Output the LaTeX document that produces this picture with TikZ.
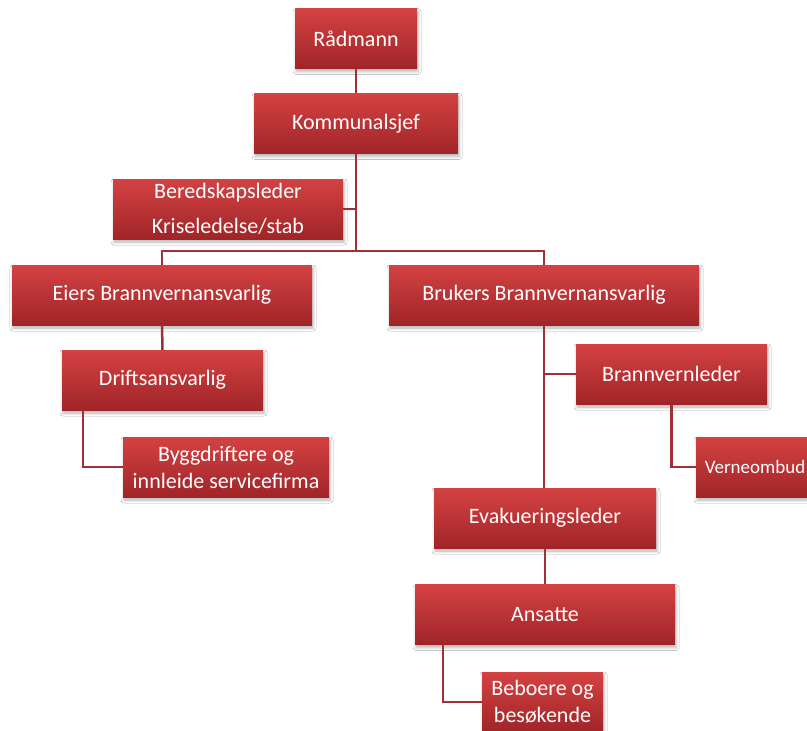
\documentclass[tikz,border=0pt]{standalone}
\usepackage{fontspec}
\setmainfont{Carlito}
\usetikzlibrary{shadows.blur}
\definecolor{boxtop}{RGB}{212,66,66}
\definecolor{boxmid}{RGB}{202,56,58}
\definecolor{boxbot}{RGB}{160,36,40}
\definecolor{linkred}{RGB}{160,48,54}
\tikzset{
  orgbox/.style={rectangle, minimum height=60pt, inner sep=0pt, align=center,
    top color=boxtop, middle color=boxmid, bottom color=boxbot, text=white,
    font=\fontsize{22}{27}\selectfont,
    blur shadow={shadow xshift=1pt, shadow yshift=-3pt, shadow blur radius=3pt, shadow opacity=30}},
  link/.style={draw=linkred, line width=2.5pt}
}
\begin{document}
\begin{tikzpicture}[x=1pt,y=-1pt]
                    \useasboundingbox[fill=white] (0,0) rectangle (807,731);
                    %NODE
                    \node[orgbox,minimum width=122pt] (radmann) at (356,38.5){Rådmann};
                    \node[orgbox,minimum width=204pt] (kommunal) at (356,123.5){Kommunalsjef};
                    \node[orgbox,minimum width=230pt] (bered) at (228,209){Beredskapsleder\\[8pt]Kriseledelse/stab};
                    \node[orgbox,minimum width=300pt] (eiers) at (162,295){Eiers Brannvernansvarlig};
                    \node[orgbox,minimum width=310pt] (brukers) at (544,295){Brukers Brannvernansvarlig};
                    \node[orgbox,minimum width=201pt] (drift) at (162.5,380){Driftsansvarlig};
                    \node[orgbox,minimum width=206pt] (bygg) at (226,467){Byggdriftere og\\innleide servicefirma};
                    \node[orgbox,minimum width=191pt] (brannv) at (671.5,374){Brannvernleder};
                    \node[orgbox,minimum width=118pt,font=\fontsize{19}{23}\selectfont] (verne) at (755,467){Verneombud};
                    \node[orgbox,minimum width=222pt] (evak) at (545,518){Evakueringsleder};
                    \node[orgbox,minimum width=260pt] (ansatte) at (545,614.5){Ansatte};
                    \node[orgbox,minimum width=121pt] (beboere) at (542.5,702){Beboere og\\besøkende};
                    \coordinate (split) at (356,251);

                    %EDGE
                    \draw[link] (radmann) -- (kommunal);
                    \draw[link] (kommunal) -- (split);
                    \draw[link] (bered.east) -- (bered.east -| split);
                    \draw[link] (split) -| (eiers.north);
                    \draw[link] (split) -| (brukers.north);
                    \draw[link] (eiers) -- (drift);
                    \draw[link] ([xshift=21pt]drift.south west) |- (bygg.west);
                    \draw[link] (brukers.south) -- (brukers.south |- evak.north);
                    \draw[link] (brannv.west) -- (brannv.west -| brukers.south);
                    \draw[link] (brannv.south) |- (verne.west);
                    \draw[link] (evak) -- (ansatte);
                    \draw[link] ([xshift=28pt]ansatte.south west) |- (beboere.west);
                \end{tikzpicture}
\end{document}
